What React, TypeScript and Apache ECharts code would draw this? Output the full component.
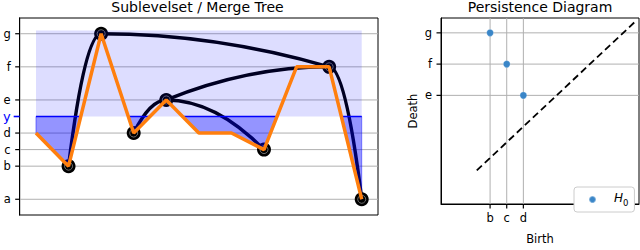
import React, { useEffect, useRef } from "react";
import * as echarts from "echarts";

// ---- data ----
const xs = [0, 1, 2, 3, 4, 5, 6, 7, 8, 9, 10];
const fVals = [4, 2, 10, 4, 6, 4, 4, 3, 8, 8, 0];
const levelY = 5;
const lightFillTop = 10.2;
const nodeX = [1, 2, 3, 4, 7, 9, 10];
const nodeV = [2, 10, 4, 6, 3, 8, 0];
// [lowX, lowV, highX, highV]
const treeEdges = [
  [1, 2, 2, 10],
  [3, 4, 4, 6],
  [7, 3, 4, 6],
  [4, 6, 9, 8],
  [9, 8, 2, 10],
  [10, 0, 9, 8],
];
const levelTicks = [0, 2, 3, 4, 6, 8, 10];
const levelNames = ["a", "b", "c", "d", "e", "f", "g"];
const births = [2, 3, 4];
const deaths = [10, 8, 6];
const birthTicks = [2, 3, 4];
const deathTicks = [6, 8, 10];
const diagEnds = [1.2, 10.7];

const FONT = "DejaVu Sans";
const nameOf = (v: number) => {
  const i = levelTicks.indexOf(v);
  return i >= 0 ? levelNames[i] : "";
};

function sublevelRuns(xv: number[], fv: number[], L: number) {
  const pts: number[][] = [];
  for (let i = 0; i < xv.length; i++) {
    pts.push([xv[i], fv[i]]);
    if (i < xv.length - 1 && (fv[i] - L) * (fv[i + 1] - L) < 0) {
      const t = (L - fv[i]) / (fv[i + 1] - fv[i]);
      pts.push([xv[i] + t * (xv[i + 1] - xv[i]), L]);
    }
  }
  const runs: number[][][] = [];
  let cur: number[][] | null = null;
  for (const p of pts) {
    if (p[1] <= L) {
      if (!cur) cur = [];
      cur.push(p);
    } else if (cur) {
      runs.push(cur);
      cur = null;
    }
  }
  if (cur) runs.push(cur);
  return runs
    .filter((r) => r.some((p) => p[1] < L))
    .map((r) => {
      const poly = [...r];
      if (poly[0][1] < L) poly.unshift([poly[0][0], L]);
      const last = poly[poly.length - 1];
      if (last[1] < L) poly.push([last[0], L]);
      return poly;
    });
}

// grid lines across the plotting area
function gridLineSeries(xi: number, yi: number, vals: number[], vertical: boolean, z: number) {
  return {
    type: "custom",
    xAxisIndex: xi,
    yAxisIndex: yi,
    z,
    silent: true,
    clip: false,
    encode: { x: 0, y: 1 },
    data: vals.map((v) => (vertical ? [v, 0] : [0, v])),
    renderItem: (params: any, api: any) => {
      const cs = params.coordSys;
      const p = api.coord([api.value(0), api.value(1)]);
      const shape = vertical
        ? { x1: p[0], y1: cs.y, x2: p[0], y2: cs.y + cs.height }
        : { x1: cs.x, y1: p[1], x2: cs.x + cs.width, y2: p[1] };
      return { type: "line", shape, style: { stroke: "#b0b0b0", lineWidth: 1 } };
    },
  };
}

// outward tick marks on the left or bottom edge
function tickSeries(xi: number, yi: number, vals: number[], bottom: boolean, len: number, color: string, width: number) {
  return {
    type: "custom",
    xAxisIndex: xi,
    yAxisIndex: yi,
    z: 6,
    silent: true,
    clip: false,
    encode: { x: 0, y: 1 },
    data: vals.map((v) => (bottom ? [v, 0] : [0, v])),
    renderItem: (params: any, api: any) => {
      const cs = params.coordSys;
      const p = api.coord([api.value(0), api.value(1)]);
      const shape = bottom
        ? { x1: p[0], y1: cs.y + cs.height, x2: p[0], y2: cs.y + cs.height + len }
        : { x1: cs.x - len, y1: p[1], x2: cs.x, y2: p[1] };
      return { type: "line", shape, style: { stroke: color, lineWidth: width } };
    },
  };
}

export default function App() {
  const ref = useRef<HTMLDivElement>(null);
  useEffect(() => {
    document.body.style.margin = "0";
    const chart = echarts.init(ref.current!, null, { renderer: "svg" });
    const tickLabel = { fontSize: 11.5, color: "#000", fontFamily: FONT };
    const frameLine = { show: true, onZero: false, lineStyle: { color: "#000", width: 1 } };
    const option: any = {
      animation: false,
      backgroundColor: "#fff",
      title: [
        {
          text: "Sublevelset / Merge Tree",
          left: 197.5,
          top: 0,
          padding: 0,
          textAlign: "center",
          textStyle: { fontSize: 14, fontWeight: "normal", color: "#000", fontFamily: FONT },
        },
        {
          text: "Persistence Diagram",
          left: 540,
          top: 0,
          padding: 0,
          textAlign: "center",
          textStyle: { fontSize: 14, fontWeight: "normal", color: "#000", fontFamily: FONT },
        },
      ],
      legend: {
        data: [{ name: "H0", icon: "circle" }],
        left: 574,
        top: 187,
        orient: "horizontal",
        itemWidth: 7,
        itemHeight: 7,
        borderColor: "#cccccc",
        borderWidth: 1,
        borderRadius: 3,
        padding: [5, 6, 5, 14],
        backgroundColor: "#fff",
        formatter: () => "{i|H}{s|0}",
        textStyle: {
          fontFamily: FONT,
          rich: {
            i: { fontStyle: "italic", fontSize: 12, fontFamily: FONT, color: "#000", padding: [0, 0, 3, 13], verticalAlign: "bottom" },
            s: { fontSize: 8.5, fontFamily: FONT, color: "#000", verticalAlign: "bottom" },
          },
        },
      },
      grid: [
        { left: 17, top: 18, width: 361, height: 197, show: true, borderColor: "#000", borderWidth: 1, backgroundColor: "transparent" },
        { left: 441, top: 18, width: 198, height: 197, show: true, borderColor: "#000", borderWidth: 1, backgroundColor: "transparent" },
      ],
      xAxis: [
        { gridIndex: 0, type: "value", min: -0.5, max: 10.5, show: false, axisLine: { show: false, onZero: false } },
        {
          gridIndex: 1,
          type: "value",
          position: "bottom",
          min: -0.95,
          max: 10.95,
          axisLine: frameLine,
          splitLine: { show: false },
          axisTick: { show: false },
          axisLabel: { ...tickLabel, customValues: birthTicks, margin: 8, formatter: (v: number) => nameOf(v) },
          name: "Birth",
          nameLocation: "middle",
          nameGap: 29,
          nameTextStyle: { fontSize: 11.5, color: "#000", fontFamily: FONT },
        },
      ],
      yAxis: [
        {
          gridIndex: 0,
          type: "value",
          position: "left",
          min: -0.95,
          max: 10.95,
          axisLine: frameLine,
          splitLine: { show: false },
          axisTick: { show: false },
          axisLabel: { ...tickLabel, customValues: levelTicks, margin: 9, formatter: (v: number) => nameOf(v) },
        },
        {
          gridIndex: 0,
          type: "value",
          position: "left",
          min: -0.95,
          max: 10.95,
          axisLine: frameLine,
          splitLine: { show: false },
          axisTick: { show: false },
          axisLabel: { customValues: [levelY], margin: 9, fontSize: 13, color: "#0000ff", fontFamily: FONT, formatter: () => "y" },
        },
        {
          gridIndex: 1,
          type: "value",
          position: "left",
          min: -0.95,
          max: 10.95,
          axisLine: frameLine,
          splitLine: { show: false },
          axisTick: { show: false },
          axisLabel: { ...tickLabel, customValues: deathTicks, margin: 9, formatter: (v: number) => nameOf(v) },
          name: "Death",
          nameLocation: "middle",
          nameGap: 22,
          nameTextStyle: { fontSize: 11.5, color: "#000", fontFamily: FONT },
        },
      ],
      series: [
        gridLineSeries(0, 0, levelTicks, false, 0),
        tickSeries(0, 0, levelTicks, false, 4.5, "#000", 1.2),
        tickSeries(0, 0, [levelY], false, 6, "#0000ff", 1.6),
        {
          type: "custom",
          xAxisIndex: 0,
          yAxisIndex: 0,
          z: 1,
          silent: true,
          encode: { x: [0, 2], y: [1, 3] },
          data: treeEdges,
          renderItem: (_p: any, api: any) => {
            const xl = api.value(0), vl = api.value(1), xh = api.value(2), vh = api.value(3);
            const ph = api.coord([xh, vh]);
            const pl = api.coord([xl, vl]);
            const cp = api.coord([(xh + xl) / 2, vh]);
            return {
              type: "bezierCurve",
              shape: { x1: ph[0], y1: ph[1], x2: pl[0], y2: pl[1], cpx1: cp[0], cpy1: cp[1] },
              style: { stroke: "#000", lineWidth: 3.5, fill: null },
            };
          },
        },
        {
          type: "scatter",
          xAxisIndex: 0,
          yAxisIndex: 0,
          z: 2,
          silent: true,
          symbol: "circle",
          symbolSize: 14,
          itemStyle: { color: "#000", opacity: 1 },
          data: nodeX.map((x, i) => [x, nodeV[i]]),
        },
        {
          type: "scatter",
          xAxisIndex: 0,
          yAxisIndex: 0,
          z: 2,
          silent: true,
          symbol: "circle",
          symbolSize: 8,
          itemStyle: { color: "rgba(0,0,0,0)", borderColor: "rgba(170,170,170,0.8)", borderWidth: 0.8, opacity: 1 },
          data: nodeX.map((x, i) => [x, nodeV[i]]),
        },
        {
          type: "custom",
          xAxisIndex: 0,
          yAxisIndex: 0,
          z: 3,
          silent: true,
          encode: { x: [0, 2], y: [1, 3] },
          data: [[xs[0], levelY, xs[xs.length - 1], lightFillTop]],
          renderItem: (_p: any, api: any) => {
            const a = api.coord([api.value(0), api.value(3)]);
            const b = api.coord([api.value(2), api.value(1)]);
            return {
              type: "rect",
              shape: { x: a[0], y: a[1], width: b[0] - a[0], height: b[1] - a[1] },
              style: { fill: "rgba(0,0,255,0.135)" },
            };
          },
        },
        {
          type: "custom",
          xAxisIndex: 0,
          yAxisIndex: 0,
          z: 4,
          silent: true,
          encode: { x: 0, y: 1 },
          data: [[xs[0], levelY]],
          renderItem: (_p: any, api: any) => {
            const runs = sublevelRuns(xs, fVals, levelY);
            const children: any[] = [];
            runs.forEach((poly) => {
              const pts = poly.map((p) => api.coord(p));
              children.push({
                type: "polygon",
                shape: { points: pts },
                style: { fill: "rgba(0,0,255,0.42)", stroke: "rgba(0,0,255,0.45)", lineWidth: 1 },
              });
              children.push({
                type: "polyline",
                shape: { points: [pts[0], pts[pts.length - 1]] },
                style: { stroke: "#0000ff", lineWidth: 1.5, fill: null },
              });
            });
            return { type: "group", children };
          },
        },
        {
          type: "line",
          xAxisIndex: 0,
          yAxisIndex: 0,
          z: 5,
          silent: true,
          showSymbol: false,
          symbol: "none",
          lineStyle: { color: "#ff7f0e", width: 3.5 },
          data: xs.map((x, i) => [x, fVals[i]]),
        },
        gridLineSeries(1, 2, deathTicks, false, 0),
        gridLineSeries(1, 2, birthTicks, true, 0),
        tickSeries(1, 2, deathTicks, false, 4.5, "#000", 1.2),
        tickSeries(1, 2, birthTicks, true, 4.5, "#000", 1.2),
        {
          type: "line",
          xAxisIndex: 1,
          yAxisIndex: 2,
          z: 2,
          silent: true,
          symbol: "none",
          lineStyle: { color: "#000", width: 1.8, type: [7, 4] },
          data: [
            [diagEnds[0], diagEnds[0]],
            [diagEnds[1], diagEnds[1]],
          ],
        },
        {
          name: "H0",
          type: "scatter",
          xAxisIndex: 1,
          yAxisIndex: 2,
          z: 3,
          symbol: "circle",
          symbolSize: 7,
          itemStyle: { color: "#3a86c8", borderColor: "rgba(255,255,255,0.35)", borderWidth: 0.8, opacity: 1 },
          data: births.map((b, i) => [b, deaths[i]]),
        },
      ],
    };
    chart.setOption(option);
    return () => chart.dispose();
  }, []);
  return <div ref={ref} style={{ width: 640, height: 250 }} />;
}
